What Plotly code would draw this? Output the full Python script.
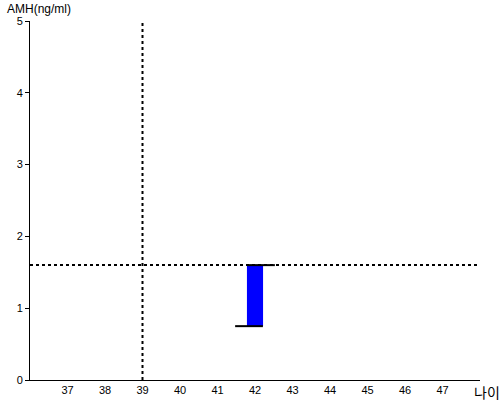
import plotly.graph_objects as go

# data
ages = [42]
amh_low = [0.75]
amh_high = [1.6]
ref_age = 39
ref_amh = 1.6
x_ticks = [37, 38, 39, 40, 41, 42, 43, 44, 45, 46, 47]
y_ticks = [0, 1, 2, 3, 4, 5]

fig = go.Figure()

# range bar
fig.add_trace(go.Bar(
    x=ages, y=[h - l for h, l in zip(amh_high, amh_low)], base=amh_low,
    width=0.43, marker=dict(color='#0000ff', line=dict(width=0)),
    showlegend=False, hoverinfo='skip'))

# low / high markers
for a, lo, hi in zip(ages, amh_low, amh_high):
    fig.add_trace(go.Scatter(x=[a - 0.53, a + 0.21], y=[lo, lo], mode='lines',
                             line=dict(color='black', width=2), showlegend=False))
    fig.add_trace(go.Scatter(x=[a - 0.21, a + 0.53], y=[hi, hi], mode='lines',
                             line=dict(color='black', width=2), showlegend=False))

# reference lines
fig.add_shape(type='line', xref='x', yref='paper', x0=ref_age, x1=ref_age, y0=0, y1=1,
              line=dict(color='black', width=2, dash='dot'))
fig.add_shape(type='line', xref='paper', yref='y', x0=0, x1=1, y0=ref_amh, y1=ref_amh,
              line=dict(color='black', width=2, dash='dot'))

fig.update_layout(
    width=500, height=400,
    margin=dict(l=30, r=20, t=21, b=20),
    plot_bgcolor='white', paper_bgcolor='white',
    font=dict(family='Liberation Sans, Arial', size=11, color='black'),
    xaxis=dict(range=[36, 48], tickvals=x_ticks, showgrid=False, zeroline=False,
               showline=True, linecolor='black', linewidth=1, ticks='',
               automargin=False),
    yaxis=dict(range=[0, 5], tickvals=y_ticks, showgrid=False, zeroline=False,
               showline=True, linecolor='black', linewidth=1,
               ticks='outside', ticklen=4, tickcolor='black', automargin=False),
    annotations=[
        dict(text='AMH(ng/ml)', xref='paper', yref='paper', x=-0.056, y=1.0,
             xanchor='left', yanchor='bottom', yshift=3, showarrow=False,
             font=dict(size=12, color='black')),
        dict(text='나이', xref='paper', yref='paper', x=1.0, y=0,
             xanchor='left', yanchor='top', xshift=-8, yshift=0, showarrow=False,
             font=dict(size=14, color='black', family='Noto Sans CJK KR')),
    ],
)

fig.write_html("out.html", config={'displayModeBar': False},
               post_script="document.body.style.margin='0';")
